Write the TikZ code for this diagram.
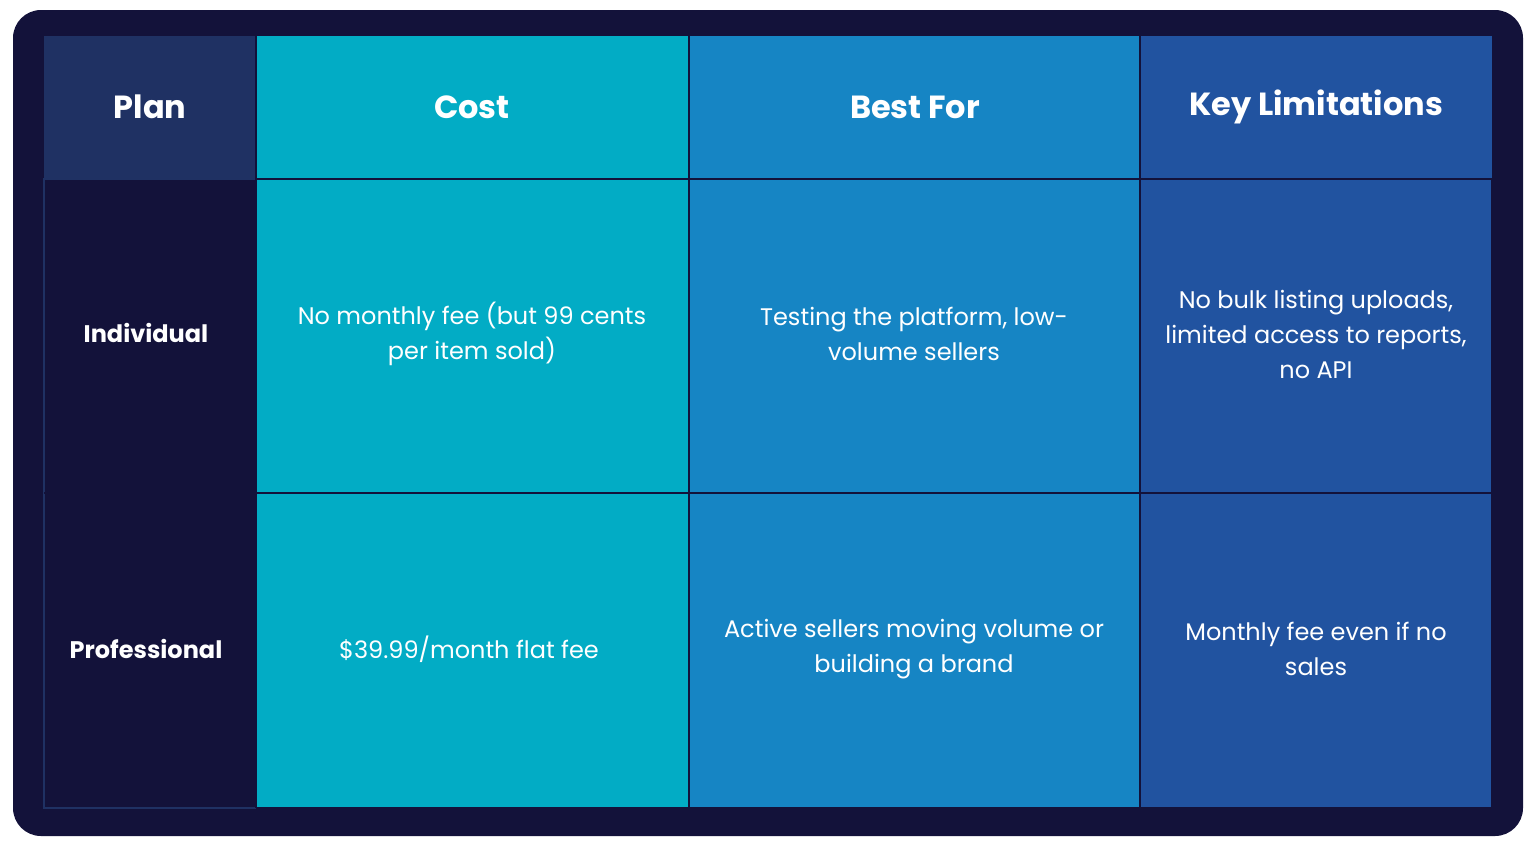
\documentclass[tikz,border=0pt]{standalone}
\usepackage{fontspec}
\setmainfont{Poppins}
\definecolor{navy}{HTML}{13123A}
\definecolor{planhead}{HTML}{1F3163}
\definecolor{costcol}{HTML}{02ACC5}
\definecolor{bestcol}{HTML}{1685C4}
\definecolor{limitcol}{HTML}{2153A0}
\tikzset{
  cell/.style={draw=navy, line width=0.6pt, inner sep=0pt, text=white, align=center},
  headtxt/.style={font=\fontsize{16}{19}\selectfont\bfseries},
  bodytxt/.style={font=\fontsize{12}{17.5}\selectfont},
  rowtxt/.style={font=\fontsize{12}{17.5}\selectfont\bfseries}
}
\begin{document}
\begin{tikzpicture}[x=0.5pt, y=-0.5pt]
	\useasboundingbox (0,0) rectangle (1536,852);
	\fill[navy, rounded corners=14pt] (13,10) rectangle (1523,836);

	% header row
	\fill[planhead] (44,36) rectangle (256,179);
	\fill[costcol] (256,36) rectangle (689,808);
	\fill[bestcol] (689,36) rectangle (1140,808);
	\fill[limitcol] (1140,36) rectangle (1492,808);
	\draw[planhead, line width=0.6pt] (44,179) rectangle (256,808);
	\draw[navy, line width=0.6pt] (256,179) -- (1492,179) (256,493) -- (1492,493)
		(44,493) -- (256,493) (256,36) -- (256,808) (689,36) -- (689,808)
		(1140,36) -- (1140,808) (1492,179) -- (1492,808) (256,808) -- (1492,808);

	\node[cell, draw=none, headtxt] (plan) at (150,107) {Plan};
	\node[cell, draw=none, headtxt] (cost) at (472,107) {Cost};
	\node[cell, draw=none, headtxt] (best) at (915,107) {Best For};
	\node[cell, draw=none, headtxt] (limit) at (1316,107) {Key Limitations};

	% individual
	\node[cell, draw=none, rowtxt] (indiv) at (146,333) {Individual};
	\node[cell, draw=none, bodytxt] (indcost) at (472,334) {No monthly fee (but 99 cents\\per item sold)};
	\node[cell, draw=none, bodytxt] (indbest) at (914,334) {Testing the platform, low-\\volume sellers};
	\node[cell, draw=none, bodytxt] (indlimit) at (1316,334) {No bulk listing uploads,\\limited access to reports,\\no API};

	% professional
	\node[cell, draw=none, rowtxt] (prof) at (146,649) {Professional};
	\node[cell, draw=none, bodytxt] (procost) at (469,649) {\$39.99/month flat fee};
	\node[cell, draw=none, bodytxt] (probest) at (914,649) {Active sellers moving volume or\\building a brand};
	\node[cell, draw=none, bodytxt] (prolimit) at (1316,649) {Monthly fee even if no\\sales};
\end{tikzpicture}
\end{document}
